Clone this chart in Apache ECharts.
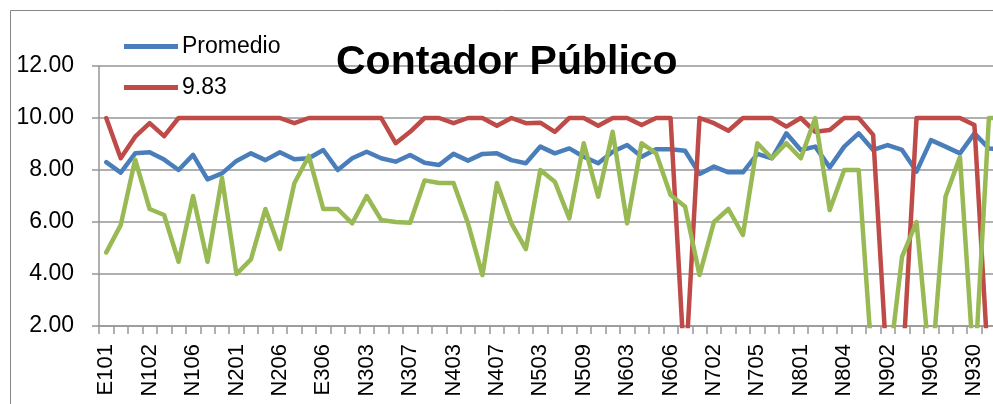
<!DOCTYPE html>
<html>
<head>
<meta charset="utf-8">
<script src="https://cdn.jsdelivr.net/npm/echarts@6/dist/echarts.min.js"></script>
<style>html,body{margin:0;padding:0;background:#fff;}#c{width:993px;height:404px;}</style>
</head>
<body>
<div id="c"></div>
<script>
const categories = ["E101","N101","E102","N102","N104","N105","N106","N107","N108","N201",
"N202","N204","N206","N207","E305","E306","N301","N302","N303","N304",
"N305","N307","N308","N401","N403","N404","N405","N407","N408","N501",
"N503","N505","N507","N509","N601","N602","N603","N604","N605","N606",
"N607","N701","N702","N703","N704","N705","N706","N707","N801","N802",
"N803","N804","N805","N901","N902","N903","N904","N905","N910","N920",
"N930","N931","N932"];
const promedio = [8.3,7.9,8.64,8.68,8.4,8.0,8.58,7.64,7.87,8.35,
8.64,8.38,8.68,8.41,8.45,8.77,8.0,8.45,8.7,8.45,
8.32,8.58,8.28,8.19,8.62,8.36,8.62,8.64,8.38,8.26,
8.9,8.64,8.83,8.51,8.26,8.7,8.96,8.51,8.8,8.8,
8.74,7.85,8.13,7.91,7.91,8.62,8.45,9.41,8.77,8.9,
8.1,8.9,9.41,8.77,8.96,8.77,7.94,9.15,8.9,8.64,
9.41,8.83,8.8];
const serie983 = [10,8.45,9.28,9.8,9.3,10,10,10,10,10,
10,10,10,9.8,10,10,10,10,10,10,
9.03,9.47,10,10,9.8,10,10,9.7,10,9.8,
9.82,9.47,10,10,9.7,10,10,9.73,10,10,
0,10,9.8,9.51,10,10,10,9.67,10,9.47,
9.54,10,10,9.35,0,0,10,10,10,10,
9.73,0,0];
const alumno = [4.83,5.88,8.4,6.5,6.27,4.47,7.0,4.47,7.7,4.0,
4.56,6.5,4.96,7.49,8.54,6.5,6.5,5.95,7.0,6.08,
6.0,5.97,7.6,7.5,7.5,5.95,3.96,7.5,5.95,4.96,
8.0,7.55,6.14,9.03,6.97,9.47,5.95,9.03,8.64,7.04,
6.6,3.96,6.0,6.5,5.5,9.03,8.45,9.03,8.45,10.0,
6.46,8.0,8.0,0,0,4.67,6.0,0,6.97,8.5,
0,10.0,10.0];
const yMin = 2, yMax = 12, yStep = 2;
const titleText = "Contador Público";
const legendNames = ["Promedio","9.83"];

const FONT = "Liberation Sans";
const chart = echarts.init(document.getElementById('c'), null, {renderer:'canvas'});
const lineSeries = (name, data, color) => ({
  name, type:'line', data, showSymbol:false, symbol:'none', clip:true,
  lineStyle:{color, width:4.5, cap:'round', join:'round'},
  itemStyle:{color}, animation:false
});
chart.setOption({
  animation:false,
  backgroundColor:'#fff',
  graphic:[{type:'rect', shape:{x:10.5,y:10.5,width:1200,height:600}, style:{fill:'none',stroke:'#868686',lineWidth:1}, z:-10}],
  title:{text:titleText, left:336, top:42, padding:0,
    textStyle:{fontFamily:FONT, fontSize:41, fontWeight:'bold', color:'#000'}},
  legend:{data:legendNames, orient:'vertical', left:124, top:35, itemWidth:54, itemHeight:5, itemGap:18,
    icon:'rect', padding:0,
    textStyle:{fontFamily:FONT, fontSize:23, color:'#000', padding:[0,0,0,-1]}},
  grid:{left:99, top:66, width:911.6, bottom:78, containLabel:false, outerBoundsMode:'none'},
  xAxis:{type:'category', data:categories, boundaryGap:true,
    axisLine:{lineStyle:{color:'#969696', width:1.5}},
    axisTick:{show:true, interval:0, length:8, lineStyle:{color:'#969696', width:1.5}},
    axisLabel:{interval:2, rotate:90, margin:18, fontFamily:FONT, fontSize:22, color:'#000'},
    splitLine:{show:false}},
  yAxis:{type:'value', min:yMin, max:yMax, interval:yStep,
    axisLine:{show:true, lineStyle:{color:'#969696', width:1.5}},
    axisTick:{show:true, length:7, lineStyle:{color:'#969696', width:1.5}},
    axisLabel:{formatter:v=>v.toFixed(2), margin:25, fontFamily:FONT, fontSize:23, color:'#000'},
    splitLine:{show:true, lineStyle:{color:'#969696', width:1.5}}},
  series:[
    lineSeries('Promedio', promedio, '#4A7EBB'),
    lineSeries('9.83', serie983, '#BE4B48'),
    lineSeries('Alumno', alumno, '#98B954')
  ]
});
</script>
</body>
</html>
